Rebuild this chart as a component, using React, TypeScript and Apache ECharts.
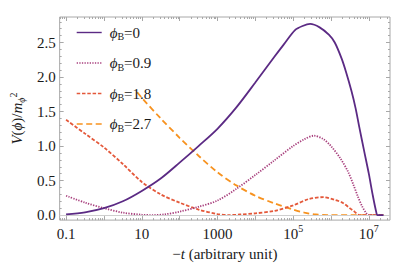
import React, { useEffect, useRef } from "react";
import * as echarts from "echarts";

// x axis is log10(-t)
const xMin = -1.17;
const xMax = 7.56;
const yMin = -0.073;
const yMax = 2.87;

const xLabelExps = [-1, 1, 3, 5, 7];
const yLabelVals = [0, 0.5, 1, 1.5, 2, 2.5];

const phiB = ["0", "0.9", "1.8", "2.7"];

const logT0 = [-1.0, -0.5, 0.0, 0.5, 1.0, 1.5, 2.0, 2.5, 3.0, 3.5, 4.0, 4.5, 4.75, 5.05, 5.25, 5.45, 5.7, 5.95, 6.1, 6.28, 6.4, 6.54, 6.65, 6.75, 6.88, 7.0, 7.1, 7.19, 7.23, 7.39];
const v0 = [0.01, 0.04, 0.10, 0.20, 0.35, 0.53, 0.76, 1.0, 1.25, 1.56, 1.92, 2.29, 2.47, 2.68, 2.74, 2.77, 2.72, 2.61, 2.50, 2.27, 2.07, 1.80, 1.55, 1.27, 0.92, 0.60, 0.30, 0.06, 0.0, 0.0];

const logT1 = [-1.0, -0.5, 0.0, 0.5, 1.0, 1.3, 1.6, 2.0, 2.5, 3.0, 3.5, 4.0, 4.5, 5.0, 5.3, 5.55, 5.8, 6.0, 6.25, 6.45, 6.6, 6.71, 6.82, 6.93, 7.0, 7.39];
const v1 = [0.28, 0.18, 0.10, 0.035, 0.005, 0.0, 0.01, 0.05, 0.12, 0.21, 0.38, 0.58, 0.79, 1.0, 1.10, 1.15, 1.10, 1.00, 0.82, 0.63, 0.43, 0.27, 0.13, 0.03, 0.0, 0.0];

const logT2 = [-1.0, -0.5, 0.0, 0.5, 1.0, 1.5, 2.0, 2.5, 3.0, 3.3, 3.6, 4.0, 4.5, 5.0, 5.4, 5.8, 6.1, 6.3, 6.5, 6.62, 6.75, 7.39];
const v2 = [1.38, 1.18, 0.98, 0.74, 0.48, 0.30, 0.18, 0.08, 0.015, 0.0, 0.008, 0.025, 0.06, 0.14, 0.23, 0.26, 0.22, 0.18, 0.10, 0.05, 0.0, 0.0];

const logT3 = [0.88, 1.0, 1.5, 2.0, 2.5, 3.0, 3.5, 4.0, 4.5, 5.0, 5.3, 5.6, 5.9, 7.39];
const v3 = [1.78, 1.70, 1.40, 1.12, 0.86, 0.62, 0.43, 0.28, 0.17, 0.08, 0.035, 0.008, 0.0, 0.0];

const colors = ["#5b2a84", "#a83f7d", "#e4583a", "#f7921f"];

const serif = "Times New Roman, Liberation Serif, DejaVu Serif, serif";
const gray = "#a8a8a8";
const textColor = "#1a1a1a";

function zip(xs: number[], ys: number[]) {
  return xs.map((x, i) => [x, ys[i]]);
}

// tick positions
const xMajorTicks: number[] = [];
const xMinorTicks: number[] = [];
for (let n = -2; n <= 7; n++) {
  if (n >= xMin && n <= xMax) xMajorTicks.push(n);
  for (let k = 2; k <= 9; k++) {
    const e = n + Math.log10(k);
    if (e >= xMin && e <= xMax) xMinorTicks.push(e);
  }
}
const yMajorTicks = yLabelVals;
const yMinorTicks: number[] = [];
for (let i = 0; i <= 28; i++) {
  const v = Math.round(i * 10) / 100;
  if (i % 5 !== 0) yMinorTicks.push(v);
}

function xLabel(v: number) {
  const e = Math.round(v);
  if (e === -1) return "{b|0.1}";
  if (e === 1) return "{b|10}";
  if (e === 3) return "{b|1000}";
  return `{b|10}{sup|${e}}`;
}

const labelRich = {
  b: { fontFamily: serif, fontSize: 15, color: textColor, lineHeight: 18, verticalAlign: "bottom" },
  sup: { fontFamily: serif, fontSize: 10, color: textColor, lineHeight: 10, verticalAlign: "top" },
};

function makeX(position: string, ticks: number[], len: number, labels: boolean) {
  return {
    type: "value",
    min: xMin,
    max: xMax,
    position,
    gridIndex: 0,
    splitLine: { show: false },
    axisLine: { show: false, onZero: false },
    axisTick: { show: true, inside: true, length: len, customValues: ticks, lineStyle: { color: gray, width: 1 } },
    axisLabel: labels
      ? { show: true, customValues: xLabelExps, formatter: xLabel, rich: labelRich, margin: 3, fontFamily: serif }
      : { show: false },
    name: labels ? "{n|\u2212}{i|t}{n| (arbitrary unit)}" : "",
    nameLocation: "middle",
    nameGap: 21,
    nameTextStyle: {
      fontFamily: serif,
      rich: {
        n: { fontFamily: serif, fontSize: 15, color: textColor },
        i: { fontFamily: serif, fontSize: 15, fontStyle: "italic", color: textColor },
      },
    },
  };
}

function makeY(position: string, ticks: number[], len: number, labels: boolean) {
  return {
    type: "value",
    min: yMin,
    max: yMax,
    position,
    gridIndex: 0,
    splitLine: { show: false },
    axisLine: { show: false, onZero: false },
    axisTick: { show: true, inside: true, length: len, customValues: ticks, lineStyle: { color: gray, width: 1 } },
    axisLabel: labels
      ? {
          show: true,
          customValues: yLabelVals,
          formatter: (v: number) => v.toFixed(1),
          fontFamily: serif,
          fontSize: 15,
          color: textColor,
          margin: 4,
        }
      : { show: false },
    name: labels ? "{i|V}{n|(}{i|\u03d5}{n|)/}{i|m}{sub|\u03d5}{sup|2}" : "",
    nameLocation: "middle",
    nameGap: 30,
    nameRotate: 90,
    nameTextStyle: {
      fontFamily: serif,
      rich: {
        n: { fontFamily: serif, fontSize: 15, color: textColor, lineHeight: 18, verticalAlign: "middle" },
        i: { fontFamily: serif, fontSize: 15, fontStyle: "italic", color: textColor, lineHeight: 18, verticalAlign: "middle" },
        sub: { fontFamily: serif, fontSize: 10, fontStyle: "italic", color: textColor, lineHeight: 9, verticalAlign: "bottom" },
        sup: { fontFamily: serif, fontSize: 10, color: textColor, lineHeight: 9, verticalAlign: "top" },
      },
    },
  };
}

const names = phiB.map((p) => `phiB=${p}`);

const option = {
  animation: false,
  backgroundColor: "#ffffff",
  textStyle: { fontFamily: serif },
  grid: {
    left: 53,
    right: 9,
    top: 17,
    bottom: 39,
    show: true,
    borderColor: gray,
    borderWidth: 1,
    backgroundColor: "transparent",
  },
  legend: {
    orient: "vertical",
    left: 76,
    top: 25,
    padding: 0,
    itemWidth: 25,
    itemHeight: 16,
    itemGap: 14,
    data: names,
    selectedMode: false,
    lineStyle: { width: 1.4 },
    itemStyle: { opacity: 0, borderWidth: 0 },
    formatter: (name: string) => `{i|\u03d5}{s|B}{n|=${name.split("=")[1]}}`,
    textStyle: {
      fontFamily: serif,
      padding: [0, 0, 0, 3],
      rich: {
        i: { fontFamily: serif, fontSize: 15, fontStyle: "italic", color: textColor, lineHeight: 18, verticalAlign: "middle" },
        s: { fontFamily: serif, fontSize: 10, color: textColor, lineHeight: 10, verticalAlign: "bottom" },
        n: { fontFamily: serif, fontSize: 15, color: textColor, lineHeight: 18, verticalAlign: "middle" },
      },
    },
  },
  xAxis: [
    makeX("bottom", xMajorTicks, 4, true),
    makeX("bottom", xMinorTicks, 2, false),
    makeX("top", xMajorTicks, 4, false),
    makeX("top", xMinorTicks, 2, false),
  ],
  yAxis: [
    makeY("left", yMajorTicks, 4, true),
    makeY("left", yMinorTicks, 2, false),
    makeY("right", yMajorTicks, 4, false),
    makeY("right", yMinorTicks, 2, false),
  ],
  series: [
    {
      name: names[3],
      type: "line",
      data: zip(logT3, v3),
      showSymbol: false,
      symbol: "none",
      smooth: 0.3,
      z: 2,
      lineStyle: { color: colors[3], width: 1.8, type: [6, 3.5] },
      itemStyle: { color: colors[3] },
      markLine: {
        silent: true,
        symbol: ["none", "none"],
        label: { show: false },
        lineStyle: { color: "#cfcfcf", width: 1, type: "solid" },
        data: [{ yAxis: 0 }],
      },
    },
    {
      name: names[2],
      type: "line",
      data: zip(logT2, v2),
      showSymbol: false,
      symbol: "none",
      smooth: 0.3,
      z: 3,
      lineStyle: { color: colors[2], width: 1.8, type: [3.5, 1.8] },
      itemStyle: { color: colors[2] },
    },
    {
      name: names[1],
      type: "line",
      data: zip(logT1, v1),
      showSymbol: false,
      symbol: "none",
      smooth: 0.3,
      z: 4,
      lineStyle: { color: colors[1], width: 1.8, type: [1.3, 1.3] },
      itemStyle: { color: colors[1] },
    },
    {
      name: names[0],
      type: "line",
      data: zip(logT0, v0),
      showSymbol: false,
      symbol: "none",
      smooth: 0.3,
      z: 5,
      lineStyle: { color: colors[0], width: 1.8, type: "solid" },
      itemStyle: { color: colors[0] },
    },
  ],
};

export default function App() {
  const ref = useRef<HTMLDivElement>(null);
  useEffect(() => {
    const chart = echarts.init(ref.current!, null, { renderer: "svg" });
    chart.setOption(option as any);
    return () => chart.dispose();
  }, []);
  return (
    <div
      ref={ref}
      style={{ position: "fixed", left: 0, top: 0, width: 399, height: 266, background: "#fff" }}
    />
  );
}
